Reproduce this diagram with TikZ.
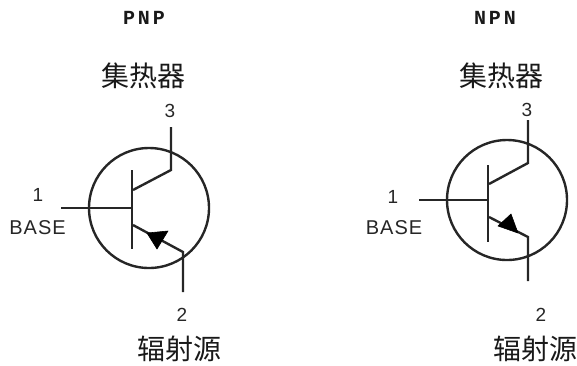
\documentclass[tikz,border=0pt]{standalone}
\usepackage{fontspec}
\setmainfont{Liberation Sans}
\newfontfamily\cjk{Noto Sans CJK SC}
\newfontfamily\monob[LetterSpace=14,BoldFont={Liberation Mono Bold}]{Liberation Mono}
\newfontfamily\spaced[LetterSpace=5]{Liberation Sans}
\begin{document}
\begin{tikzpicture}[x=1pt,y=-1pt,
  wire/.style={line width=2.4pt,color=black!85},
  ring/.style={circle,draw,line width=2.4pt,color=black!85,minimum size=120pt,inner sep=0pt},
  head/.style={fill=black,draw=black,line width=.6pt,line join=round},
  cn/.style={font=\fontsize{28}{28}\selectfont\cjk,inner sep=0pt,text=black!90},
  lab/.style={font=\fontsize{19}{19}\selectfont,inner sep=0pt,text=black!85},
  wide/.style={font=\fontsize{20}{20}\selectfont\spaced,inner sep=0pt,text=black!85},
  title/.style={font=\fontsize{20}{20}\selectfont\monob\bfseries,inner sep=0pt,text=black!90}]
\useasboundingbox (0,0) rectangle (577,365);
% PNP
\node[title] (tp) at (144,18) {PNP};
\node[cn] (cp) at (143.5,76) {集热器};
\node[lab] (n3p) at (170,111) {3};
\node[lab] (n1p) at (38,195) {1};
\node[wide] (bp) at (37.5,228) {BASE};
\node[lab] (n2p) at (182,315) {2};
\node[cn] (ep) at (179,349) {辐射源};
\node[ring] (rp) at (149,208) {};
\coordinate (b0p) at (61,208);
\coordinate (b1p) at (132,208);
\coordinate (btp) at (132,170);
\coordinate (bbp) at (132,249);
\coordinate (c0p) at (133,190);
\coordinate (c1p) at (171,170);
\coordinate (c2p) at (171,127);
\coordinate (e0p) at (133,225);
\coordinate (e1p) at (183,252);
\coordinate (e2p) at (183,292);
\coordinate (a1p) at (147,233);
\coordinate (a2p) at (168,231);
\coordinate (a3p) at (157,249);
\draw[wire] (b0p) -- (b1p);
\draw[wire] (btp) -- (bbp);
\draw[wire] (c0p) -- (c1p) -- (c2p);
\draw[wire] (e0p) -- (e1p) -- (e2p);
\draw[head] (a1p) -- (a2p) -- (a3p) -- cycle;
% NPN
\node[title] (tn) at (495,18) {NPN};
\node[cn] (cn1) at (501,76) {集热器};
\node[lab] (n3n) at (527,110) {3};
\node[lab] (n1n) at (393,197) {1};
\node[wide] (bn) at (394,228) {BASE};
\node[lab] (n2n) at (541,315) {2};
\node[cn] (en) at (535,349) {辐射源};
\node[ring] (rn) at (507,200) {};
\coordinate (b0n) at (419,200);
\coordinate (b1n) at (488,200);
\coordinate (btn) at (488,165);
\coordinate (bbn) at (488,242);
\coordinate (c0n) at (489,184);
\coordinate (c1n) at (528,163);
\coordinate (c2n) at (528,120);
\coordinate (e0n) at (489,217);
\coordinate (e1n) at (528,237);
\coordinate (e2n) at (528,281);
\coordinate (a1n) at (511,214);
\coordinate (a2n) at (498,226);
\coordinate (a3n) at (518,233);
\draw[wire] (b0n) -- (b1n);
\draw[wire] (btn) -- (bbn);
\draw[wire] (c0n) -- (c1n) -- (c2n);
\draw[wire] (e0n) -- (e1n) -- (e2n);
\draw[head] (a1n) -- (a2n) -- (a3n) -- cycle;
\end{tikzpicture}
\end{document}
